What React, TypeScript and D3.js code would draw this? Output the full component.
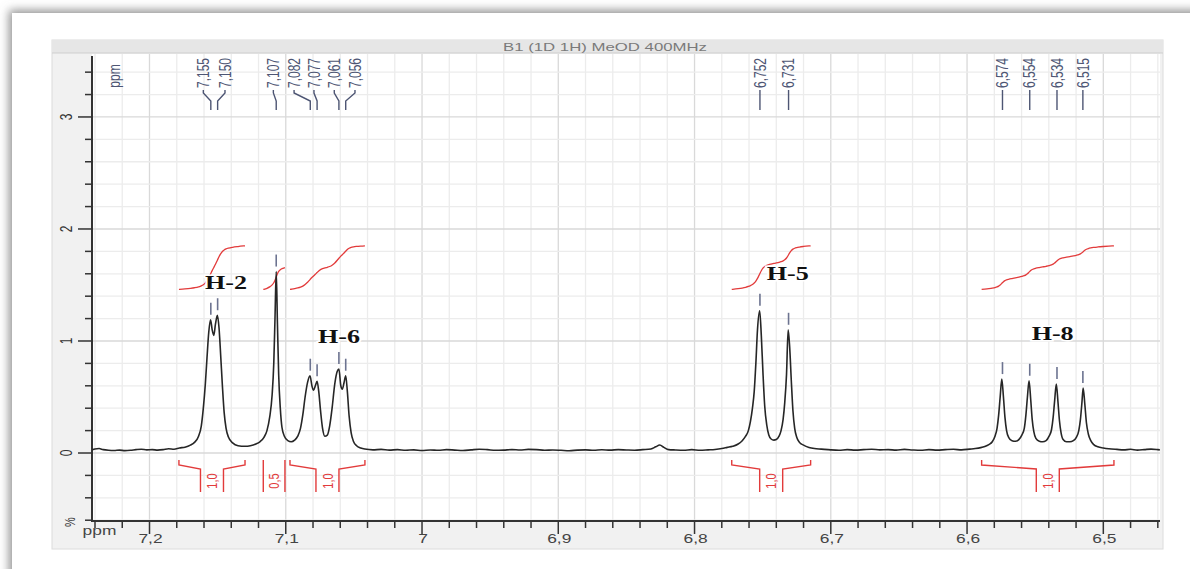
import React from 'react'
import * as d3 from 'd3'

const W = 1190
const H = 569

const title = 'B1 (1D 1H) MeOD 400MHz'

// spectrum: [ppm, intensity]
const spectrum: [number, number][] = [
  [7.242, 0.028], [7.240, 0.036], [7.237, 0.04], [7.234, 0.03], [7.230, 0.024], [7.226, 0.022],
  [7.222, 0.026], [7.218, 0.021], [7.214, 0.024], [7.210, 0.03], [7.206, 0.034], [7.202, 0.028],
  [7.198, 0.03], [7.194, 0.026], [7.190, 0.03], [7.186, 0.038], [7.182, 0.034], [7.178, 0.045],
  [7.174, 0.052], [7.170, 0.07], [7.167, 0.095], [7.164, 0.15], [7.162, 0.24], [7.1605, 0.4],
  [7.159, 0.62], [7.1578, 0.85], [7.1565, 1.08], [7.1552, 1.19], [7.154, 1.1], [7.1528, 1.05],
  [7.1516, 1.15], [7.1502, 1.23], [7.149, 1.12], [7.1478, 0.88], [7.1465, 0.6], [7.1452, 0.36],
  [7.1438, 0.22], [7.142, 0.14], [7.139, 0.09], [7.135, 0.065], [7.130, 0.06], [7.126, 0.065],
  [7.122, 0.08], [7.119, 0.1], [7.116, 0.14], [7.1138, 0.2], [7.1118, 0.32], [7.110, 0.52],
  [7.1088, 0.8], [7.1079, 1.2], [7.107, 1.62], [7.1061, 1.15], [7.1052, 0.7], [7.104, 0.4],
  [7.1028, 0.23], [7.101, 0.15], [7.0985, 0.11], [7.096, 0.1], [7.0935, 0.115], [7.0912, 0.15],
  [7.0892, 0.22], [7.0875, 0.34], [7.0858, 0.5], [7.084, 0.63], [7.0822, 0.69], [7.0808, 0.6],
  [7.0796, 0.56], [7.0783, 0.6], [7.077, 0.64], [7.0758, 0.55], [7.0745, 0.38], [7.073, 0.22],
  [7.0713, 0.15], [7.0695, 0.16], [7.0678, 0.24], [7.066, 0.4], [7.064, 0.62], [7.0622, 0.73],
  [7.061, 0.75], [7.0596, 0.6], [7.0585, 0.57], [7.0572, 0.63], [7.056, 0.69], [7.0548, 0.55],
  [7.0535, 0.33], [7.052, 0.18], [7.0502, 0.1], [7.048, 0.065], [7.045, 0.045], [7.042, 0.035],
  [7.036, 0.028], [7.030, 0.032], [7.024, 0.026], [7.018, 0.03], [7.012, 0.025], [7.006, 0.028],
  [7.000, 0.022], [6.994, 0.027], [6.988, 0.024], [6.982, 0.03], [6.976, 0.026], [6.970, 0.022],
  [6.964, 0.028], [6.958, 0.034], [6.952, 0.03], [6.946, 0.024], [6.940, 0.026], [6.934, 0.03],
  [6.928, 0.027], [6.922, 0.032], [6.916, 0.03], [6.910, 0.025], [6.904, 0.027], [6.898, 0.024],
  [6.892, 0.02], [6.886, 0.026], [6.880, 0.028], [6.874, 0.024], [6.868, 0.029], [6.862, 0.026],
  [6.856, 0.03], [6.850, 0.027], [6.844, 0.025], [6.838, 0.03], [6.832, 0.036], [6.8285, 0.055],
  [6.8255, 0.072], [6.8225, 0.05], [6.819, 0.03], [6.814, 0.027], [6.808, 0.025], [6.802, 0.03],
  [6.796, 0.024], [6.790, 0.028], [6.785, 0.032], [6.780, 0.04], [6.776, 0.05], [6.772, 0.06],
  [6.768, 0.08], [6.765, 0.11], [6.7625, 0.15], [6.7605, 0.2], [6.759, 0.28], [6.7575, 0.4],
  [6.7562, 0.55], [6.755, 0.8], [6.7538, 1.1], [6.7522, 1.27], [6.751, 1.05], [6.7498, 0.72],
  [6.7485, 0.42], [6.747, 0.25], [6.7455, 0.16], [6.7438, 0.125], [6.7418, 0.115], [6.740, 0.12],
  [6.738, 0.15], [6.7365, 0.2], [6.735, 0.3], [6.7338, 0.45], [6.7325, 0.7], [6.7313, 1.1],
  [6.7302, 0.95], [6.729, 0.65], [6.7278, 0.38], [6.7265, 0.22], [6.725, 0.14], [6.723, 0.095],
  [6.720, 0.07], [6.716, 0.05], [6.712, 0.04], [6.707, 0.035], [6.700, 0.028], [6.694, 0.025],
  [6.688, 0.03], [6.682, 0.026], [6.676, 0.03], [6.670, 0.034], [6.664, 0.028], [6.658, 0.03],
  [6.652, 0.026], [6.646, 0.032], [6.640, 0.027], [6.634, 0.024], [6.628, 0.03], [6.622, 0.026],
  [6.616, 0.03], [6.610, 0.033], [6.604, 0.028], [6.598, 0.035], [6.594, 0.04], [6.590, 0.048],
  [6.587, 0.058], [6.584, 0.075], [6.5815, 0.1], [6.5795, 0.15], [6.578, 0.22], [6.5768, 0.34],
  [6.5757, 0.5], [6.5745, 0.66], [6.5733, 0.5], [6.5722, 0.32], [6.571, 0.2], [6.5695, 0.14],
  [6.567, 0.11], [6.5645, 0.105], [6.562, 0.12], [6.5598, 0.16], [6.558, 0.22], [6.5568, 0.34],
  [6.5557, 0.5], [6.5545, 0.645], [6.5533, 0.48], [6.5522, 0.3], [6.551, 0.19], [6.5495, 0.13],
  [6.547, 0.105], [6.5445, 0.1], [6.542, 0.11], [6.5398, 0.15], [6.538, 0.21], [6.5368, 0.32],
  [6.5357, 0.47], [6.5345, 0.616], [6.5333, 0.46], [6.5322, 0.29], [6.531, 0.18], [6.5295, 0.12],
  [6.527, 0.1], [6.5245, 0.1], [6.522, 0.11], [6.5198, 0.14], [6.518, 0.2], [6.5168, 0.3],
  [6.5157, 0.45], [6.5148, 0.58], [6.5136, 0.44], [6.5124, 0.27], [6.511, 0.17], [6.5092, 0.11],
  [6.507, 0.075], [6.504, 0.055], [6.500, 0.045], [6.496, 0.038], [6.490, 0.032], [6.485, 0.028],
  [6.480, 0.033], [6.475, 0.026], [6.470, 0.03], [6.465, 0.035], [6.460, 0.03], [6.4585, 0.028],
]

// picked peaks
const peakPpm = [7.155, 7.150, 7.107, 7.082, 7.077, 7.061, 7.056, 6.752, 6.731, 6.574, 6.554, 6.534, 6.515]
const peakText = ['7,155', '7,150', '7,107', '7,082', '7,077', '7,061', '7,056', '6,752', '6,731', '6,574', '6,554', '6,534', '6,515']
// where the software put the label text (ppm)
const labelPpm = [7.1605, 7.1446, 7.1091, 7.0939, 7.0793, 7.0644, 7.0492, 6.752, 6.731, 6.574, 6.554, 6.534, 6.515]

// integration regions
const integralFrom = [7.1784, 7.1165, 7.0969, 6.7727, 6.5893]
const integralTo = [7.1299, 7.1006, 7.0419, 6.7148, 6.4922]
const integralValue = [1.0, 0.5, 1.0, 1.0, 1.0]

// proton assignments
const groupNames = ['H-2', 'H-6', 'H-5', 'H-8']
const groupPpm = [7.1593, 7.0763, 6.747, 6.5526]
const groupLevel = [1.464, 0.982, 1.545, 1.009]

const sans = '"Liberation Sans", Arial, sans-serif'
const labelColor = '#4d5573'
const red = '#e23b3b'

const interp = (p: number) => {
  for (let i = 0; i < spectrum.length - 1; i++) {
    const a = spectrum[i], b = spectrum[i + 1]
    if (p <= a[0] && p >= b[0]) return a[1] + (b[1] - a[1]) * (a[0] - p) / (a[0] - b[0])
  }
  return 0
}

function integralCurve(from: number, to: number, value: number): [number, number][] {
  const pts: [number, number][] = [[from, interp(from)], ...spectrum.filter(d => d[0] < from && d[0] > to), [to, interp(to)]]
  let acc = 0
  const cum = pts.map((d, i) => {
    if (i > 0) acc += (pts[i - 1][0] - d[0]) * (pts[i - 1][1] + d[1]) / 2
    return acc
  })
  return pts.map((d, i) => [d[0], 1.46 + (cum[i] / acc) * value * 0.39])
}

export default function App() {
  const x = d3.scaleLinear().domain([7.2422, 6.4584]).range([92, 1160])
  const y = d3.scaleLinear().domain([-0.607, 3.571]).range([521, 53])

  const xTicks = d3.range(0, 40).map(i => +(7.24 - i * 0.02).toFixed(2)).filter(v => v >= 6.4584)
  const isMajorX = (v: number) => Math.abs(v * 10 - Math.round(v * 10)) < 1e-6
  const yTicks = d3.range(-3, 18).map(i => +(i * 0.2).toFixed(1))
  const isMajorY = (v: number) => Math.abs(v - Math.round(v)) < 1e-6

  const line = d3.line<[number, number]>()
    .x(d => x(d[0]))
    .y(d => y(d[1]))
    .curve(d3.curveMonotoneX)

  const peakTop = (p: number) => d3.max(spectrum.filter(d => Math.abs(d[0] - p) < 0.0013), d => d[1]) ?? 0
  const fmtTick = (v: number) => String(+v.toFixed(1)).replace('.', ',')
  const fmtInt = (v: number) => v.toFixed(1).replace('.', ',')

  return (
    <div style={{ position: 'absolute', left: 0, top: 0 }}>
      <svg width={W} height={H} style={{ display: 'block', background: '#fff' }}>
        <defs>
          <filter id="shadow" x="-5%" y="-5%" width="110%" height="110%">
            <feDropShadow dx="-3" dy="-3" stdDeviation="5" floodColor="#777" floodOpacity="0.8" />
          </filter>
          <clipPath id="plotClip">
            <rect x={92} y={53} width={1068} height={468} />
          </clipPath>
        </defs>

        <rect x={0} y={0} width={W} height={H} fill="#fff" />
        <rect x={12} y={13} width={1200} height={600} fill="#fff" filter="url(#shadow)" />

        {/* frame of the spectrum window */}
        <rect x={52} y={40} width={1111} height={509} fill="#f1f1f1" stroke="#dcdcdc" />
        <rect x={52} y={40} width={1111} height={13} fill="#e6e6e6" />
        <line x1={52} x2={1163} y1={53} y2={53} stroke="#cfcfcf" />
        <rect x={92} y={54} width={1068} height={467} fill="#fff" />
        <text x={605} y={51} fontFamily={sans} fontSize={11} fill="#7a7a7a" textAnchor="middle"
          textLength={204} lengthAdjust="spacingAndGlyphs">{title}</text>

        {/* grid */}
        {xTicks.map(v => (
          <line key={'gx' + v} x1={x(v)} x2={x(v)} y1={54} y2={521}
            stroke={isMajorX(v) ? '#d9d9d9' : '#ececec'} strokeWidth={1.3} />
        ))}
        {yTicks.map(v => (
          <line key={'gy' + v} x1={92} x2={1160} y1={y(v)} y2={y(v)}
            stroke={isMajorY(v) ? '#d9d9d9' : '#ececec'} strokeWidth={1.3} />
        ))}

        {/* axes */}
        <line x1={92} x2={92} y1={56} y2={522} stroke="#333" strokeWidth={2} />
        <line x1={91} x2={1160} y1={521} y2={521} stroke="#333" strokeWidth={2} />
        {yTicks.map(v => (
          <line key={'ty' + v} x1={isMajorY(v) ? 78 : 85} x2={92} y1={y(v)} y2={y(v)} stroke="#333" strokeWidth={1.5} />
        ))}
        {yTicks.filter(v => isMajorY(v) && v >= 0).map(v => (
          <text key={'ly' + v} transform={`translate(66,${y(v)}) scale(1.45,1) rotate(-90)`}
            fontFamily={sans} fontSize={12} fill="#333" textAnchor="middle" dominantBaseline="central">{v}</text>
        ))}
        <text transform="translate(70,522) scale(1.3,1) rotate(-90)" fontFamily={sans} fontSize={11}
          fill="#333" textAnchor="middle" dominantBaseline="central">%</text>
        <text transform="translate(114,76) scale(1.3,1) rotate(-90)" fontFamily={sans} fontSize={12}
          fill={labelColor} textAnchor="middle" dominantBaseline="central">ppm</text>

        {xTicks.map(v => (
          <line key={'tx' + v} x1={x(v)} x2={x(v)} y1={521} y2={isMajorX(v) ? 534 : 528} stroke="#333" strokeWidth={1.5} />
        ))}
        {xTicks.filter(v => isMajorX(v)).map(v => (
          <text key={'lx' + v} transform={`translate(${x(v) + 1},543) scale(1.45,1)`}
            fontFamily={sans} fontSize={12} fill="#444" textAnchor="middle">{fmtTick(v)}</text>
        ))}
        <text transform="translate(99.5,535) scale(1.45,1)" fontFamily={sans} fontSize={12}
          fill="#444" textAnchor="middle">ppm</text>

        <g clipPath="url(#plotClip)">
          {/* integrals */}
          {integralFrom.map((f, i) => (
            <path key={'int' + i} d={line(integralCurve(f, integralTo[i], integralValue[i])) ?? ''}
              fill="none" stroke={red} strokeWidth={1.3} />
          ))}

          {/* spectrum */}
          <path d={line(spectrum) ?? ''} fill="none" stroke="#262626" strokeWidth={1.6} />

          {/* peak marks */}
          {peakPpm.map((p, i) => {
            const yt = y(peakTop(p))
            return <line key={'pm' + i} x1={x(p)} x2={x(p)} y1={yt - 17} y2={yt - 5} stroke="#6c7390" strokeWidth={1.6} />
          })}

          {/* assignments */}
          {groupNames.map((g, i) => (
            <text key={g} x={x(groupPpm[i])} y={y(groupLevel[i])} fontFamily='"Liberation Serif", "Times New Roman", serif'
              fontWeight="bold" fontSize={18} fill="#111" stroke="#fff" strokeWidth={3} paintOrder="stroke"
              textLength={42} lengthAdjust="spacingAndGlyphs">{g}</text>
          ))}
        </g>

        {/* peak labels */}
        {peakPpm.map((p, i) => {
          const lx = x(labelPpm[i])
          const px = x(p)
          return (
            <g key={'pl' + i}>
              <text transform={`translate(${lx},88) scale(1.4,1) rotate(-90)`} fontFamily={sans} fontSize={12}
                fill={labelColor} dominantBaseline="central">{peakText[i]}</text>
              <path d={`M${lx},90 L${lx},93 L${px},101 L${px},110`} fill="none" stroke={labelColor} strokeWidth={1.4} />
            </g>
          )
        })}

        {/* integral brackets */}
        {integralFrom.map((f, i) => {
          const x1 = x(f)
          const x2 = x(integralTo[i])
          const c = (x1 + x2) / 2
          const half = 11.5
          const d = x2 - x1 > 2 * half + 6
            ? `M${x1},460 L${x1},465 L${c - half},469 L${c - half},492 M${x2},460 L${x2},465 L${c + half},469 L${c + half},492`
            : `M${x1},460 L${x1},492 M${x2},460 L${x2},492`
          return (
            <g key={'br' + i}>
              <path d={d} fill="none" stroke={red} strokeWidth={1.4} />
              <text transform={`translate(${c},481) scale(1.3,1) rotate(-90)`} fontFamily={sans} fontSize={11}
                fill={red} textAnchor="middle" dominantBaseline="central">{fmtInt(integralValue[i])}</text>
            </g>
          )
        })}
      </svg>
    </div>
  )
}
